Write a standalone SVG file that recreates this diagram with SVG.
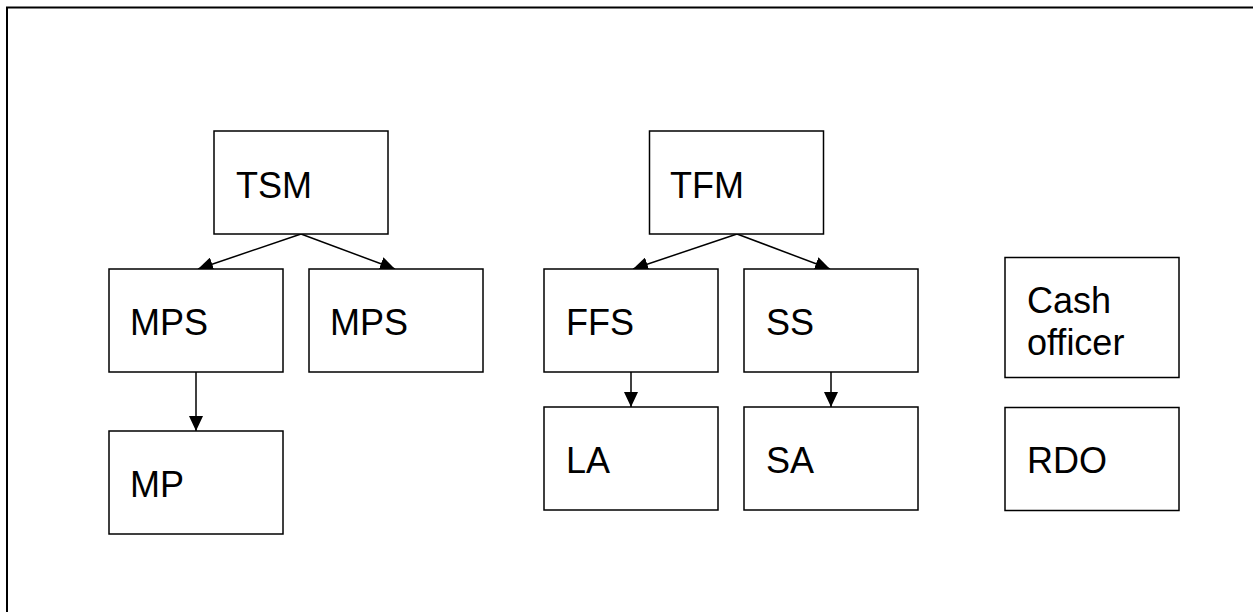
<svg xmlns="http://www.w3.org/2000/svg" width="1253" height="612" viewBox="0 0 1253 612">
<defs>
<style>
.box{fill:#fff;stroke:#000;stroke-width:1.5}
.lbl{font-family:"Liberation Sans",Arial,sans-serif;font-size:36px;fill:#000}
.con{stroke:#000;stroke-width:1.5;fill:none}
</style>
<marker id="ah" markerUnits="userSpaceOnUse" markerWidth="15" markerHeight="14" refX="15" refY="7" orient="auto">
<path d="M0,0 L15,7 L0,14 z" fill="#000"/>
</marker>
</defs>
<rect x="0" y="0" width="1253" height="612" fill="#fff"/>
<rect id="frame" x="7" y="7.5" width="1270" height="630" fill="none" stroke="#000" stroke-width="2"/>
<g id="connectors">
<line class="con" x1="301" y1="234" x2="198" y2="269" marker-end="url(#ah)"/>
<line class="con" x1="301" y1="234" x2="395" y2="269" marker-end="url(#ah)"/>
<line class="con" x1="196" y1="372" x2="196" y2="431" marker-end="url(#ah)"/>
<line class="con" x1="737" y1="234" x2="633" y2="269" marker-end="url(#ah)"/>
<line class="con" x1="737" y1="234" x2="830" y2="269" marker-end="url(#ah)"/>
<line class="con" x1="631" y1="372" x2="631" y2="407" marker-end="url(#ah)"/>
<line class="con" x1="831" y1="372" x2="831" y2="407" marker-end="url(#ah)"/>
</g>
<g id="tsm"><rect class="box" x="214" y="131" width="174" height="103"/><text class="lbl" x="236" y="197.5">TSM</text></g>
<g id="mps1"><rect class="box" x="109" y="269" width="174" height="103"/><text class="lbl" x="130" y="335">MPS</text></g>
<g id="mps2"><rect class="box" x="309" y="269" width="174" height="103"/><text class="lbl" x="330" y="335">MPS</text></g>
<g id="mp"><rect class="box" x="109" y="431" width="174" height="103"/><text class="lbl" x="130" y="497">MP</text></g>
<g id="tfm"><rect class="box" x="649.5" y="131" width="174" height="103"/><text class="lbl" x="670" y="197.5">TFM</text></g>
<g id="ffs"><rect class="box" x="544" y="269" width="174" height="103"/><text class="lbl" x="566" y="335">FFS</text></g>
<g id="ss"><rect class="box" x="744" y="269" width="174" height="103"/><text class="lbl" x="766" y="335">SS</text></g>
<g id="la"><rect class="box" x="544" y="407" width="174" height="103"/><text class="lbl" x="566" y="473">LA</text></g>
<g id="sa"><rect class="box" x="744" y="407" width="174" height="103"/><text class="lbl" x="766" y="473">SA</text></g>
<g id="cash"><rect class="box" x="1005" y="257.5" width="174" height="120"/><text class="lbl" x="1027" y="312.5">Cash</text><text class="lbl" x="1027" y="355">officer</text></g>
<g id="rdo"><rect class="box" x="1005" y="407.5" width="174" height="103"/><text class="lbl" x="1027" y="472.5">RDO</text></g>
</svg>
